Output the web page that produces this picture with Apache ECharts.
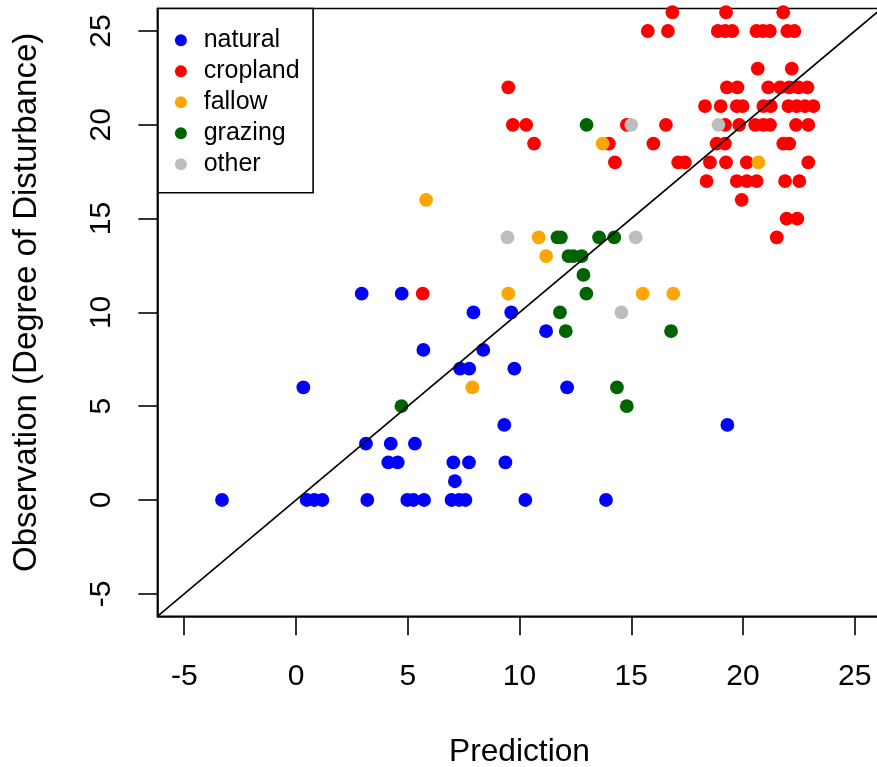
<!DOCTYPE html>
<html>
<head>
<meta charset="utf-8">
<script src="https://cdn.jsdelivr.net/npm/echarts@6/dist/echarts.min.js"></script>
<style>html,body{margin:0;padding:0;background:#fff}#c{width:877px;height:767px}</style>
</head>
<body>
<div id="c"></div>
<script>
// ---- data (Prediction = x, Observation = y) ----
var seriesNames = ['natural', 'cropland', 'fallow', 'grazing', 'other'];
var seriesColors = ['#0000FF', '#FF0000', '#FFA500', '#006400', '#BEBEBE'];

var naturalPred = [2.94, 4.73, 7.94, 9.63, 11.19, 5.7, 8.38, 7.34, 7.75, 9.77, 0.33, 12.13, 9.32, 19.3,
  3.13, 4.24, 5.32, 4.13, 4.55, 7.04, 7.74, 9.37, 7.11,
  -3.31, 0.48, 0.82, 1.18, 3.19, 4.98, 5.25, 5.73, 6.96, 7.3, 7.58, 10.26, 13.87];
var naturalObs = [11, 11, 10, 10, 9, 8, 8, 7, 7, 7, 6, 6, 4, 4,
  3, 3, 3, 2, 2, 2, 2, 2, 1,
  0, 0, 0, 0, 0, 0, 0, 0, 0, 0, 0, 0, 0];

var croplandPred = [16.84, 19.24, 21.8,
  15.74, 16.64, 18.87, 19.2, 19.52, 20.6, 20.9, 21.2, 21.98, 22.3,
  20.66, 22.18,
  9.5, 19.28, 19.75, 21.13, 21.66, 22.07, 22.48, 22.88,
  18.3, 19.0, 19.72, 19.98, 20.91, 21.24, 22.03, 22.4, 22.77, 23.15,
  9.7, 10.3, 14.8, 16.55, 19.2, 19.83, 20.54, 20.91, 21.21, 22.37, 22.92,
  10.65, 14.0, 15.99, 18.82, 19.19, 21.8, 22.07,
  14.27, 17.1, 17.4, 18.52, 19.24, 20.17, 22.92,
  18.37, 19.72, 20.17, 20.61, 21.88, 22.52,
  19.94, 21.95, 22.43, 21.51, 5.67];
var croplandObs = [26, 26, 26,
  25, 25, 25, 25, 25, 25, 25, 25, 25, 25,
  23, 23,
  22, 22, 22, 22, 22, 22, 22, 22,
  21, 21, 21, 21, 21, 21, 21, 21, 21, 21,
  20, 20, 20, 20, 20, 20, 20, 20, 20, 20, 20,
  19, 19, 19, 19, 19, 19, 19,
  18, 18, 18, 18, 18, 18, 18,
  17, 17, 17, 17, 17, 17,
  16, 15, 15, 14, 11];

var fallowPred = [5.82, 13.72, 20.69, 10.86, 11.19, 9.5, 15.51, 16.88, 7.89];
var fallowObs = [16, 19, 18, 14, 13, 11, 11, 11, 6];

var grazingPred = [13.0, 11.7, 11.85, 13.56, 14.24, 12.19, 12.41, 12.78, 12.86, 12.99, 11.81, 12.07, 16.78, 14.36, 4.72, 14.8];
var grazingObs = [20, 14, 14, 14, 14, 13, 13, 13, 12, 11, 10, 9, 9, 6, 5, 5];

var otherPred = [15.0, 18.9, 9.46, 15.2, 14.56];
var otherObs = [20, 20, 14, 14, 10];

var tickValues = [-5, 0, 5, 10, 15, 20, 25];
var axisRange = [-6.2, 26.2];
var refLine = [-6.2, 26.2];   // 1:1 line y = x

// ---- chart ----
var FONT = 'Liberation Sans, Arial, sans-serif';
function zip(a, b) { return a.map(function (v, i) { return [v, b[i]]; }); }
var xs = [naturalPred, croplandPred, fallowPred, grazingPred, otherPred];
var ys = [naturalObs, croplandObs, fallowObs, grazingObs, otherObs];

var series = seriesNames.map(function (n, i) {
  return {
    name: n, type: 'scatter', data: zip(xs[i], ys[i]),
    symbol: 'circle', symbolSize: 13.8,
    itemStyle: { color: seriesColors[i], opacity: 1 },
    emphasis: { disabled: true }, z: 3
  };
});
series.push({
  type: 'line', data: zip(refLine, refLine), symbol: 'none', silent: true,
  lineStyle: { color: '#000', width: 1.6 }, z: 4, clip: true
});

var axisCommon = {
  type: 'value', min: axisRange[0], max: axisRange[1],
  splitLine: { show: false },
  axisLine: { show: true, onZero: false, lineStyle: { color: '#000', width: 1.6 } },
  axisTick: { show: true, inside: false, length: 19, customValues: tickValues, lineStyle: { color: '#000', width: 1.6 } },
  nameLocation: 'middle'
};

var chart = echarts.init(document.getElementById('c'), null, { renderer: 'canvas' });
chart.setOption({
  animation: false,
  backgroundColor: '#fff',
  grid: { left: 157.4, top: 8.5, width: 724.2, height: 607.8, show: true, borderColor: '#000', borderWidth: 1.6,
          backgroundColor: 'transparent', containLabel: false, outerBoundsMode: 'none' },
  xAxis: Object.assign({}, axisCommon, {
    name: 'Prediction', nameGap: 120,
    nameTextStyle: { fontFamily: FONT, fontSize: 31.7, color: '#000' },
    axisLabel: { customValues: tickValues, margin: 45, fontFamily: FONT, fontSize: 30, color: '#000' }
  }),
  yAxis: Object.assign({}, axisCommon, {
    name: 'Observation (Degree of Disturbance)', nameGap: 114,
    nameTextStyle: { fontFamily: FONT, fontSize: 33, color: '#000', padding: [0, 0, 0, 20] },
    axisLabel: { customValues: tickValues, rotate: 90, margin: 41, fontFamily: FONT, fontSize: 30, color: '#000' }
  }),
  legend: {
    orient: 'vertical', left: 158, top: 8.5,
    data: seriesNames, icon: 'circle', itemWidth: 35.6, itemHeight: 12, itemGap: 6,
    padding: [19.3, 13.5, 16.0, 16.9],
    borderColor: '#000', borderWidth: 1.6, backgroundColor: '#fff',
    textStyle: { fontFamily: FONT, fontSize: 25, color: '#000' },
    selectedMode: false
  },
  series: series
});
</script>
</body>
</html>
